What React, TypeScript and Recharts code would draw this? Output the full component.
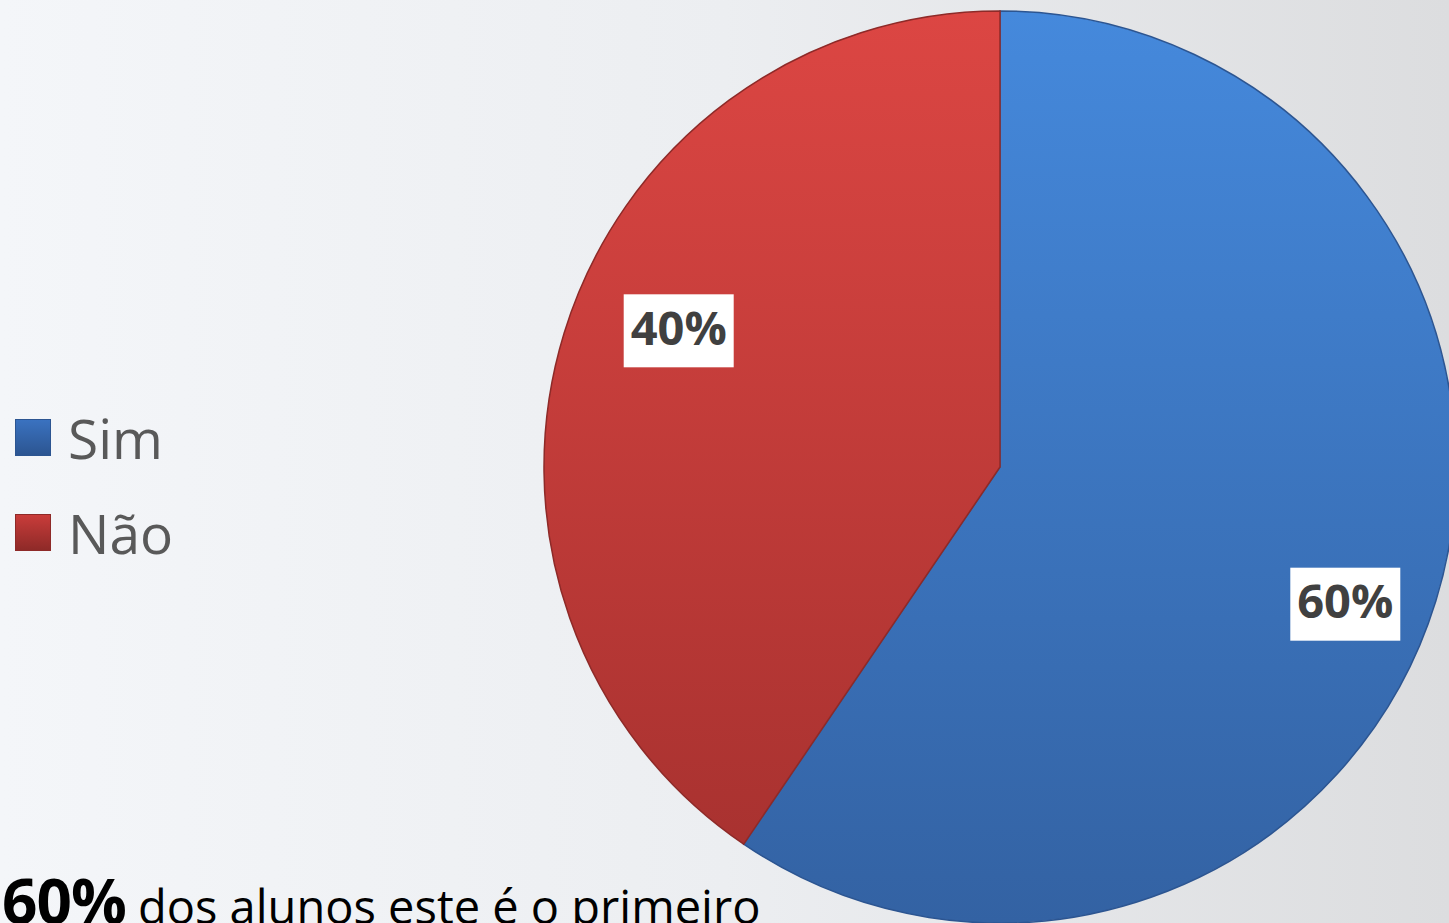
import { PieChart, Pie, Cell, Legend } from "recharts";

const categories = ["Sim", "Não"];
const values = [59.5, 40.5];
const percentLabels = ["60%", "40%"];

const data = categories.map((name, i) => ({ name, value: values[i], label: percentLabels[i] }));

const fills = ["url(#gradSim)", "url(#gradNao)"];
const strokes = ["#2c5591", "#8e2a28"];
const swatch = ["#3a72c0", "#c93c3a"];

const RADIAN = Math.PI / 180;

const renderLabel = (props: any) => {
  const { cx, cy, midAngle, outerRadius, index } = props;
  const a = (midAngle - 5.2) * RADIAN;
  const r = outerRadius * 0.79;
  const x = cx + r * Math.cos(a) + 12;
  const y = cy - r * Math.sin(a);
  return (
    <g>
      <rect x={x - 55} y={y - 36} width={110} height={73} fill="#ffffff" />
      <text
        x={x}
        y={y + 2}
        textAnchor="middle"
        dominantBaseline="middle"
        fontFamily="'Open Sans', sans-serif"
        fontWeight={700}
        fontSize={47}
        fill="#404040"
      >
        {data[index].label}
      </text>
    </g>
  );
};

// legend drawn from our own category order (recharts sorts the payload by name)
const renderLegend = () => (
  <div>
    {categories.map((name, i) => (
      <div key={name} style={{ display: "flex", alignItems: "center", height: 95 }}>
        <div
          style={{
            width: 34,
            height: 35,
            background: `linear-gradient(to bottom, ${swatch[i]}, ${strokes[i]})`,
            border: `1px solid ${strokes[i]}`,
            marginRight: 17,
          }}
        />
        <span style={{ fontFamily: "'Open Sans', sans-serif", fontSize: 55, color: "#595959" }}>{name}</span>
      </div>
    ))}
  </div>
);

export default function App() {
  return (
    <div
      style={{
        position: "absolute",
        left: 0,
        top: 0,
        width: 1449,
        height: 923,
        overflow: "hidden",
        background: "linear-gradient(to right, #f4f6f9 0%, #eceef1 50%, #dcdddf 100%)",
      }}
    >
      <PieChart width={1449} height={923} margin={{ top: 0, right: 0, bottom: 0, left: 0 }}>
        <defs>
          <linearGradient id="gradSim" x1="0" y1="11" x2="0" y2="923" gradientUnits="userSpaceOnUse">
            <stop offset="0%" stopColor="#4589dc" />
            <stop offset="100%" stopColor="#3362a3" />
          </linearGradient>
          <linearGradient id="gradNao" x1="0" y1="11" x2="0" y2="923" gradientUnits="userSpaceOnUse">
            <stop offset="0%" stopColor="#dc4643" />
            <stop offset="100%" stopColor="#a4302e" />
          </linearGradient>
        </defs>
        <Pie
          data={data}
          dataKey="value"
          nameKey="name"
          cx={1000}
          cy={467}
          outerRadius={456}
          startAngle={90}
          endAngle={-270}
          label={renderLabel}
          labelLine={false}
          isAnimationActive={false}
        >
          {data.map((d, i) => (
            <Cell key={d.name} fill={fills[i]} stroke={strokes[i]} strokeWidth={1.5} />
          ))}
        </Pie>
        <Legend
          layout="vertical"
          content={renderLegend}
          wrapperStyle={{ position: "absolute", left: 15, top: 390, width: 250 }}
        />
      </PieChart>
      <div
        style={{
          position: "absolute",
          left: 2,
          top: 858,
          whiteSpace: "nowrap",
          fontFamily: "'Open Sans', sans-serif",
          color: "#000000",
        }}
      >
        <span style={{ fontSize: 62, fontWeight: 700, letterSpacing: -1 }}>60%</span>
        <span style={{ fontSize: 47 }}> dos alunos este é o primeiro</span>
      </div>
    </div>
  );
}
